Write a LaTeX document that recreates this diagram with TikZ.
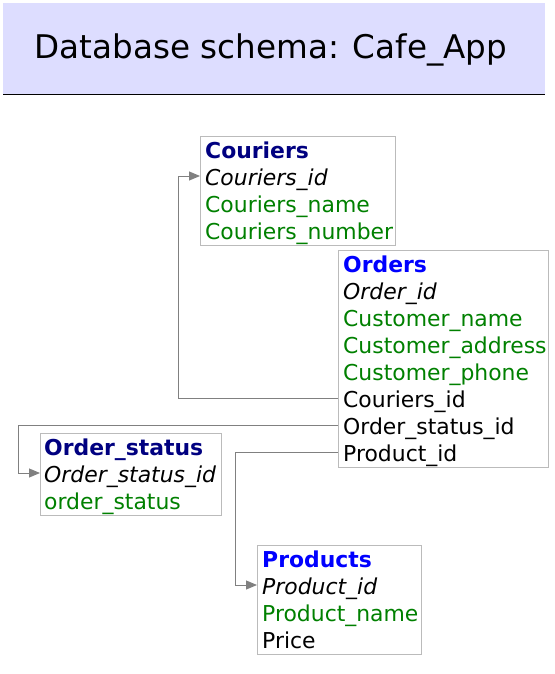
\documentclass[tikz,border=0pt]{standalone}
\usepackage{fontspec}
\setmainfont{DejaVu Sans}
\usetikzlibrary{arrows.meta}

\definecolor{bandblue}{HTML}{DDDDFF}
\definecolor{headnavy}{HTML}{000080}
\definecolor{headblue}{HTML}{0000FF}
\definecolor{attrgreen}{HTML}{008000}
\definecolor{boxgray}{HTML}{BBBBBB}
\definecolor{linkgray}{HTML}{808080}

\begin{document}
\begin{tikzpicture}[
  x=1pt,y=-1pt,
  >={Triangle[length=11pt,width=9pt]},
  table box/.style={rectangle,draw=boxgray,line width=1pt,anchor=north west,inner sep=0pt},
  row/.style={anchor=west,inner sep=0pt,text height=18pt,text depth=0pt,font=\fontsize{21.9}{26}\selectfont},
  head row/.style={row,font=\fontsize{21.9}{26}\selectfont\bfseries},
  key row/.style={row,font=\fontsize{21.9}{26}\selectfont\itshape},
  attr row/.style={row,text=attrgreen},
  link/.style={draw=linkgray,line width=1pt},
]
\useasboundingbox (0,0) rectangle (554,674);
% title band
\fill[bandblue] (3,3) rectangle (545,95);
\draw[line width=1pt] (3,95) -- (545,95);
\node[inner sep=0pt,font=\fontsize{32.6}{38}\selectfont] (title) at (271,50) {Database schema: Cafe\_App};

% Couriers
\node[table box,minimum width=195pt,minimum height=109pt] (couriers) at (200,136) {};
\node[head row,text=headnavy] (cour-head) at (205,149) {Couriers};
\node[key row] (cour-id) at (205,176) {Couriers\_id};
\node[attr row] (cour-name) at (205,203) {Couriers\_name};
\node[attr row] (cour-number) at (205,230) {Couriers\_number};

% Orders
\node[table box,minimum width=210pt,minimum height=217pt] (orders) at (338,250) {};
\node[head row,text=headblue] (ord-head) at (343,263) {Orders};
\node[key row] (ord-id) at (343,290) {Order\_id};
\node[attr row] (ord-cname) at (343,317) {Customer\_name};
\node[attr row] (ord-caddr) at (343,344) {Customer\_address};
\node[attr row] (ord-cphone) at (343,371) {Customer\_phone};
\node[row] (ord-cour) at (343,398) {Couriers\_id};
\node[row] (ord-status) at (343,425) {Order\_status\_id};
\node[row] (ord-prod) at (343,452) {Product\_id};

% Order_status
\node[table box,minimum width=181pt,minimum height=82pt] (status) at (40,433) {};
\node[head row,text=headnavy] (stat-head) at (44,446) {Order\_status};
\node[key row] (stat-id) at (44,473) {Order\_status\_id};
\node[attr row] (stat-name) at (44,500) {order\_status};

% Products
\node[table box,minimum width=164pt,minimum height=109pt] (products) at (257,545) {};
\node[head row,text=headblue] (prod-head) at (262,558) {Products};
\node[key row] (prod-id) at (262,585) {Product\_id};
\node[attr row] (prod-name) at (262,612) {Product\_name};
\node[row] (prod-price) at (262,639) {Price};

% foreign keys
\coordinate (bend-cour) at (178,0);
\coordinate (bend-status) at (18,0);
\coordinate (bend-prod) at (235,0);
\draw[link,->] (ord-cour.west -| orders.west) -- (ord-cour.west -| bend-cour) |- (cour-id.west -| couriers.west);
\draw[link,->] (ord-status.west -| orders.west) -- (ord-status.west -| bend-status) |- (stat-id.west -| status.west);
\draw[link,->] (ord-prod.west -| orders.west) -- (ord-prod.west -| bend-prod) |- (prod-id.west -| products.west);
\end{tikzpicture}
\end{document}
